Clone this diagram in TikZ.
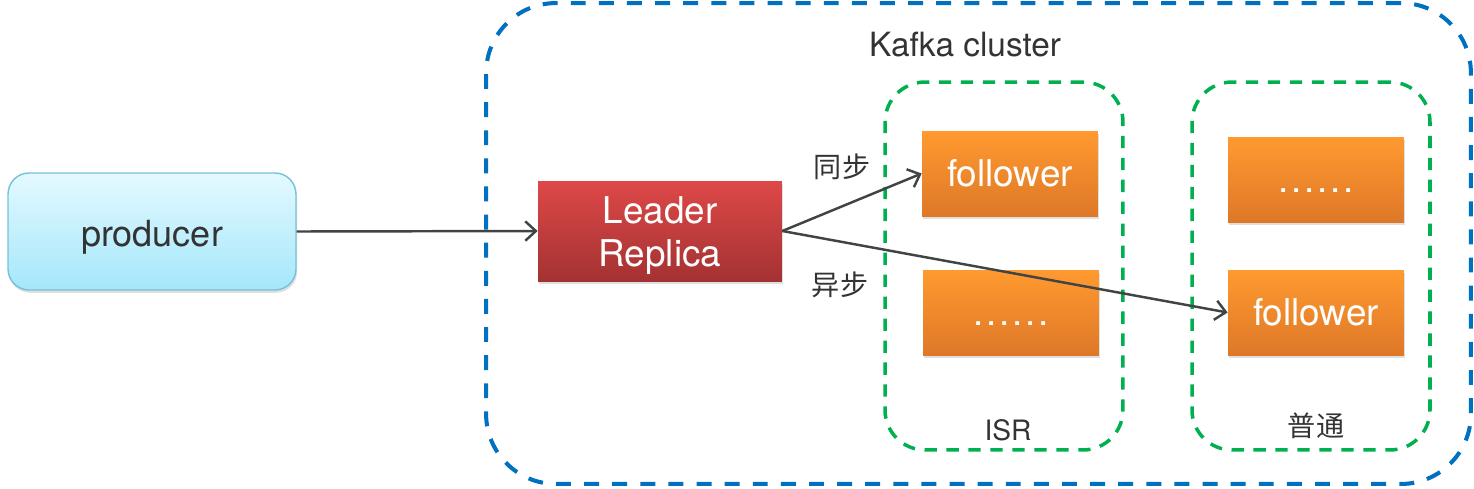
\documentclass[tikz,border=0pt]{standalone}
\definecolor{ClusterBlue}{RGB}{0,112,192}
\definecolor{GroupGreen}{RGB}{0,176,80}
\definecolor{ProdTop}{RGB}{228,249,255}
\definecolor{ProdBot}{RGB}{164,231,251}
\definecolor{ProdLine}{RGB}{120,192,214}
\definecolor{LeadTop}{RGB}{222,72,72}
\definecolor{LeadBot}{RGB}{164,50,50}
\definecolor{FolTop}{RGB}{255,154,48}
\definecolor{FolBot}{RGB}{222,120,40}
\definecolor{InkGray}{RGB}{64,68,68}
\usepackage{fontspec}
\setmainfont{TeX Gyre Heros}
\newfontfamily\cjk{Noto Sans CJK SC}
\usepackage{tikz}
\usetikzlibrary{arrows.meta, positioning, shadows}
\newcommand{\gapdots}{\vphantom{follower}.\hspace{1.6pt}.\hspace{1.6pt}.\hspace{1.6pt}.\hspace{1.6pt}.\hspace{1.6pt}.}

\begin{document}
\begin{tikzpicture}[x=0.02cm, y=-0.02cm,
    box/.style={inner sep=0pt, align=center, text=white,
                drop shadow={shadow xshift=0.6pt, shadow yshift=-1.6pt, opacity=0.25}},
    follower/.style={box, minimum width=3.52cm, minimum height=1.7cm,
                top color=FolTop, bottom color=FolBot,
                font=\fontsize{21}{24}\selectfont},
    group/.style={draw=GroupGreen, line width=2pt, dash pattern=on 7pt off 5.5pt,
                rounded corners=0.8cm, minimum width=4.76cm, minimum height=7.36cm},
    link/.style={draw=InkGray, line width=1.4pt, -{Straight Barb[length=6pt, width=11pt]}},
    tag/.style={text=black!80, font=\fontsize{16}{18}\selectfont}]
  \useasboundingbox (0,0) rectangle (1474,488);

  % cluster frame
  \node[draw=ClusterBlue, line width=2.3pt, dash pattern=on 8.5pt off 7.5pt,
        rounded corners=1.4cm, minimum width=19.7cm, minimum height=9.62cm]
        (cluster) at (978.5,243.5) {};
  \node[tag, font=\fontsize{19}{22}\selectfont] (clustername) at (965,45) {Kafka cluster};

  \node[group] (isr) at (1004,266) {};
  \node[group] (normal) at (1311,266) {};
  \node[tag] (isrname) at (1008,430) {ISR};
  \node[tag] (normalname) at (1316,426) {\cjk 普通};

  \node[box, draw=ProdLine, line width=0.8pt, rounded corners=0.42cm,
        minimum width=5.76cm, minimum height=2.34cm,
        top color=ProdTop, bottom color=ProdBot, text=black!80,
        font=\fontsize{20.5}{24}\selectfont] (producer) at (152,231.5) {\rule{0pt}{21pt}producer};
  \node[box, minimum width=4.88cm, minimum height=2cm,
        top color=LeadTop, bottom color=LeadBot,
        font=\fontsize{21}{24.5}\selectfont] (leader) at (660,231) {\rule{0pt}{21pt}Leader\\Replica};

  \node[follower] (syncfol) at (1010,173.5) {follower};
  \node[follower] (isrmore) at (1011,312.5) {\gapdots};
  \node[follower] (normmore) at (1316,179.5) {\gapdots};
  \node[follower] (asyncfol) at (1316,312.5) {follower};

  \draw[link] (producer.east) -- (leader.west);
  \draw[link] (leader.east) -- (syncfol.west);
  \draw[link] (leader.east) -- (asyncfol.west);

  \node[tag] (syncname) at (842,167) {\cjk 同步};
  \node[tag] (asyncname) at (840,285) {\cjk 异步};
\end{tikzpicture}
\end{document}
